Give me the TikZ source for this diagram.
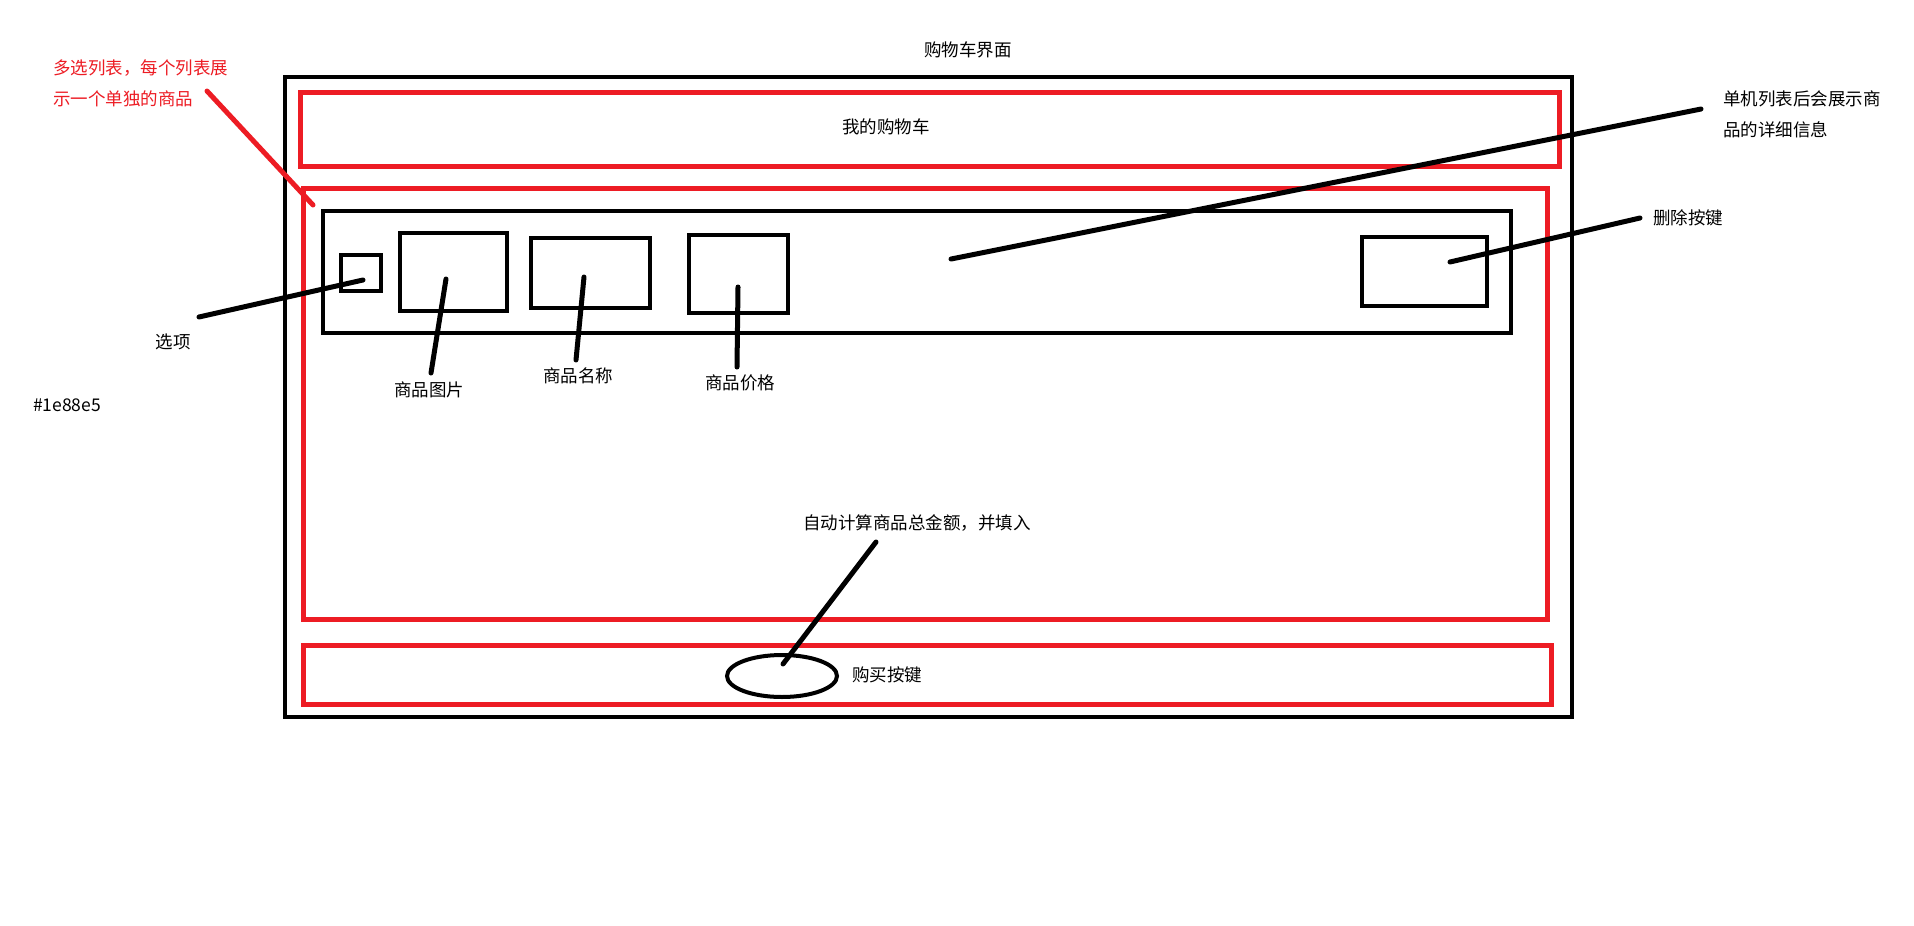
\documentclass[tikz,border=0pt]{standalone}
\usepackage{fontspec}
\setmainfont{Noto Sans CJK SC}
\usetikzlibrary{shapes.geometric}
\definecolor{paintred}{HTML}{ED1C24}
\begin{document}
\begin{tikzpicture}[x=1pt,y=-1pt,
  frame/.style={draw=black,line width=4pt,rectangle,inner sep=0pt},
  zone/.style={draw=paintred,line width=5pt,rectangle,inner sep=0pt},
  lead/.style={draw=black,line width=5pt,line cap=round},
  redlead/.style={draw=paintred,line width=5pt,line cap=round},
  label/.style={font=\fontsize{17.5}{31}\selectfont,inner sep=0pt},
]
\useasboundingbox[fill=white] (0,0) rectangle (1914,926);

% window frame and its three zones
\node[frame,minimum width=1287pt,minimum height=640pt] (window) at (928.5,397) {};
\node[zone,minimum width=1259pt,minimum height=74pt] (header) at (929.5,129) {};
\node[zone,minimum width=1244pt,minimum height=431pt] (listzone) at (925,403.5) {};
\node[zone,minimum width=1248pt,minimum height=59pt] (footer) at (927,674.5) {};

% one list row with its fields
\node[frame,minimum width=1188pt,minimum height=122pt] (row) at (917,272) {};
\node[frame,minimum width=40pt,minimum height=36pt] (check) at (361,273) {};
\node[frame,minimum width=107pt,minimum height=78pt] (pic) at (453.5,272) {};
\node[frame,minimum width=119pt,minimum height=70pt] (title) at (590.5,273) {};
\node[frame,minimum width=99pt,minimum height=78pt] (price) at (738.5,274) {};
\node[frame,minimum width=125pt,minimum height=69pt] (delbtn) at (1424.5,271.5) {};

% buy button
\node[draw=black,line width=4pt,ellipse,minimum width=110pt,minimum height=42pt,inner sep=0pt] (buy) at (782,676) {};

% texts
\node[label] (screen) at (968,50) {购物车界面};
\node[label] (mycart) at (886,127) {我的购物车};
\node[label,text=paintred,anchor=west,align=left] (multinote) at (53,83.5) {多选列表，每个列表展\\示一个单独的商品};
\node[label,anchor=west,align=left] (detailnote) at (1723,114) {单机列表后会展示商\\品的详细信息};
\node[label,anchor=west] (delnote) at (1653,218) {删除按键};
\node[label] (checknote) at (173,342) {选项};
\node[label] (picnote) at (429,390) {商品图片};
\node[label] (titlenote) at (578,376) {商品名称};
\node[label] (pricenote) at (740,383) {商品价格};
\node[label] (hexnote) at (67,405) {\#1e88e5};
\node[label] (sumnote) at (917,523) {自动计算商品总金额，并填入};
\node[label] (buynote) at (887,675) {购买按键};

% connector end points
\coordinate (multiA) at (207,91);
\coordinate (multiB) at (313,205);
\coordinate (checkA) at (199,317);
\coordinate (checkB) at (363,280);
\coordinate (picA) at (446,279);
\coordinate (picB) at (431,373);
\coordinate (titleA) at (584,277);
\coordinate (titleB) at (576,360);
\coordinate (priceA) at (738,287);
\coordinate (priceB) at (737,367);
\coordinate (rowA) at (951,259);
\coordinate (rowB) at (1701,109);
\coordinate (delA) at (1450,262);
\coordinate (delB) at (1640,218);
\coordinate (buyA) at (783,664);
\coordinate (buyB) at (876,542);

% connectors
\draw[redlead] (multiA) -- (multiB);
\draw[lead] (checkA) -- (checkB);
\draw[lead] (picA) -- (picB);
\draw[lead] (titleA) -- (titleB);
\draw[lead] (priceA) -- (priceB);
\draw[lead] (rowA) -- (rowB);
\draw[lead] (delA) -- (delB);
\draw[lead] (buyA) -- (buyB);
\end{tikzpicture}
\end{document}
